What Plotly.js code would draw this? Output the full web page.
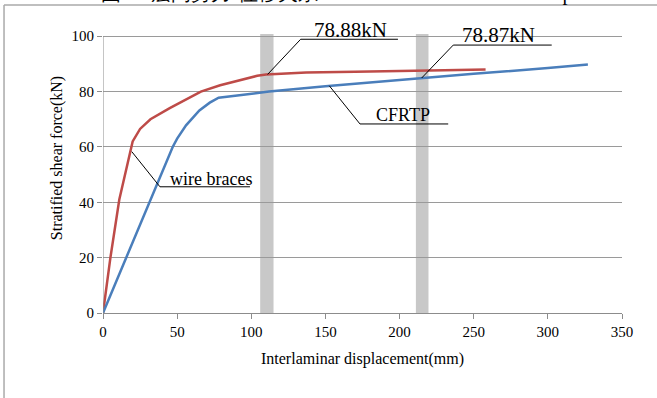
<!DOCTYPE html>
<html>
<head>
<meta charset="utf-8">
<script src="https://cdn.plot.ly/plotly-3.0.1.min.js"></script>
<style>html,body{margin:0;padding:0;background:#fff;}#chart{width:657px;height:398px;}</style>
</head>
<body>
<div id="chart"></div>
<script>
// ---- data ----
const wireX = [0, 5, 11, 15, 20, 25, 32, 45, 56, 66, 79, 95, 104, 110, 137, 170, 194, 230, 258];
const wireY = [0, 20, 41, 50, 62, 66.5, 70, 74, 77.1, 80, 82.3, 84.6, 85.7, 86.2, 86.9, 87.2, 87.5, 87.7, 88.0];
const cfrtpX = [0, 47, 50, 56, 65, 72, 78, 112, 150, 200, 250, 300, 327];
const cfrtpY = [0, 60, 63, 67.8, 73.2, 76, 77.8, 80, 81.9, 84.2, 86.4, 88.5, 89.8];
const seriesNames = ['wire braces', 'CFRTP'];
const xTicks = [0, 50, 100, 150, 200, 250, 300, 350];
const yTicks = [0, 20, 40, 60, 80, 100];
const bandA = [106, 115];
const bandB = [211, 219.5];
const labels = ['78.88kN', '78.87kN', 'CFRTP', 'wire braces'];

const FONT = '"Liberation Serif", "Times New Roman", serif';
const AX = '#8c8c8c';

const traces = [
  {x: wireX, y: wireY, mode: 'lines', name: seriesNames[0], line: {color: '#BE4B48', width: 2.5}, hoverinfo: 'skip'},
  {x: cfrtpX, y: cfrtpY, mode: 'lines', name: seriesNames[1], line: {color: '#4A7EBB', width: 2.5}, hoverinfo: 'skip'}
];

function seg(x0, y0, x1, y1, color, w, xref, yref) {
  return {type: 'line', xref: xref || 'x', yref: yref || 'y', x0: x0, y0: y0, x1: x1, y1: y1,
          line: {color: color || '#000', width: w || 1}, layer: 'above'};
}
const shapes = [
  {type: 'rect', xref: 'x', yref: 'y', x0: bandA[0], x1: bandA[1], y0: 0, y1: 100.8, fillcolor: '#c8c8c8', line: {width: 0}, layer: 'below'},
  {type: 'rect', xref: 'x', yref: 'y', x0: bandB[0], x1: bandB[1], y0: 0, y1: 100.8, fillcolor: '#c8c8c8', line: {width: 0}, layer: 'below'},
  // y axis line (only up to 100)
  seg(0, 0, 0, 100, AX, 1),
  // leaders
  seg(111, 86.2, 133.3, 98.9), seg(133.3, 98.9, 198.9, 98.9),
  seg(214.9, 84.9, 236.2, 96.8), seg(236.2, 96.8, 302.6, 96.8),
  seg(152.6, 82.1, 173.3, 68.3), seg(173.3, 68.3, 232.8, 68.3),
  seg(19.4, 58.3, 38.4, 45.6), seg(38.4, 45.6, 99.1, 45.6),
  // outer frame
  seg(-0.1907, 0.9935, 1.08, 0.9935, '#aaaaaa', 1.5, 'paper', 'paper'),
  seg(-0.1907, 0.9935, -0.1907, -0.3, '#aaaaaa', 1.5, 'paper', 'paper')
];

function lab(t, x, y, size) {
  return {text: t, x: x, y: y, xref: 'x', yref: 'y', showarrow: false, xanchor: 'center', yanchor: 'middle',
          font: {family: FONT, size: size, color: '#000'}};
}
const annotations = [
  lab(labels[0], 167.0, 102.1, 21),
  lab(labels[1], 266.6, 100.3, 21),
  lab(labels[2], 202.6, 71.7, 18),
  lab(labels[3], 72.5, 48.4, 18),
  {text: '图10  层间剪力-位移关系  Load-deformation relationship', xref: 'paper', yref: 'paper', x: 0.45, y: 1.031,
   xanchor: 'center', yanchor: 'middle', showarrow: false, font: {family: FONT, size: 20, color: '#000'}}
];

const layout = {
  width: 657, height: 398,
  margin: {l: 103, r: 35, t: 3, b: 85},
  paper_bgcolor: '#fff', plot_bgcolor: '#fff',
  showlegend: false,
  font: {family: FONT, color: '#000'},
  xaxis: {
    range: [0, 350], tickvals: xTicks, ticktext: xTicks.map(String),
    showgrid: false, zeroline: false, showline: true, linecolor: AX, linewidth: 1,
    ticks: 'outside', ticklen: 5, tickcolor: AX, tickwidth: 1,
    tickfont: {family: FONT, size: 15, color: '#000'},
    title: {text: 'Interlaminar displacement(mm)', font: {family: FONT, size: 16, color: '#000'}, standoff: 13},
    fixedrange: true
  },
  yaxis: {
    range: [0, 112], tickvals: yTicks, ticktext: yTicks.map(String),
    showgrid: true, gridcolor: '#9a9a9a', gridwidth: 1, zeroline: false, showline: false,
    ticks: 'outside', ticklen: 5, tickcolor: AX, tickwidth: 1,
    tickfont: {family: FONT, size: 15, color: '#000'},
    title: {text: 'Stratified shear force(kN)', font: {family: FONT, size: 16, color: '#000'}, standoff: 4},
    fixedrange: true
  },
  shapes: shapes,
  annotations: annotations
};

Plotly.newPlot('chart', traces, layout, {displayModeBar: false, staticPlot: true});
</script>
</body>
</html>
